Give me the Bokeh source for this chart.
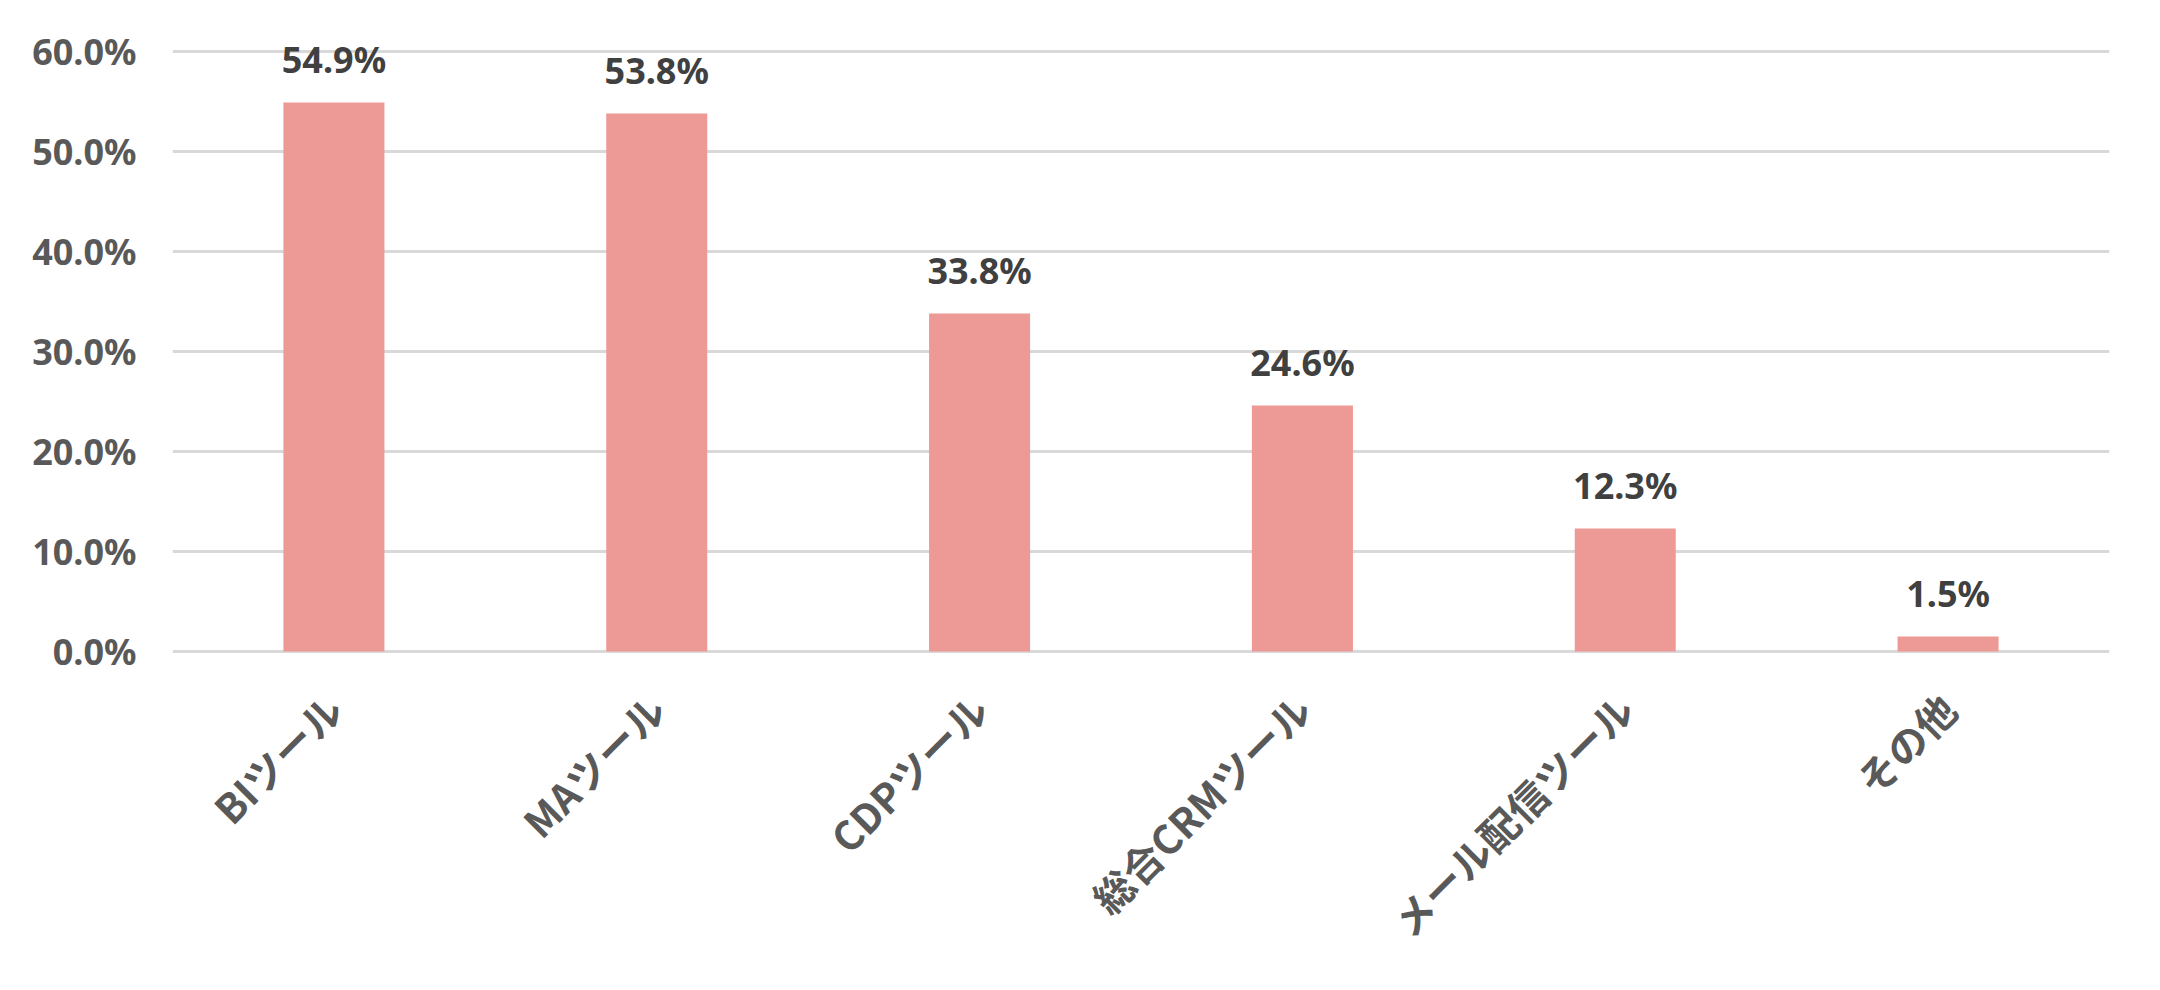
import math
from bokeh.plotting import figure
from bokeh.models import ColumnDataSource, FixedTicker, PrintfTickFormatter, Range1d, FactorRange
from bokeh.core.properties import value
from bokeh.embed import file_html
from bokeh.resources import INLINE

categories = ["BIツール", "MAツール", "CDPツール", "総合CRMツール", "メール配信ツール", "その他"]
values = [54.9, 53.8, 33.8, 24.6, 12.3, 1.5]
y_ticks = [0, 10, 20, 30, 40, 50, 60]

labels = [f"{v:.1f}%" for v in values]
src = ColumnDataSource(dict(cat=categories, val=values, lab=labels))

p = figure(
    x_range=FactorRange(*categories),
    y_range=Range1d(-0.5, 62),
    width=2144, height=974,
    output_backend="svg", toolbar_location=None,
    min_border_left=172, min_border_right=35,
    min_border_top=31, min_border_bottom=318,
)
p.outline_line_color = None
p.background_fill_color = "white"
p.border_fill_color = "white"

p.vbar(x="cat", top="val", width=0.313, source=src, fill_color="#ED9A97", line_color=None)

p.text(x="cat", y="val", text="lab", source=src, y_offset=-43,
       text_align="center", text_baseline="alphabetic",
       text_font=value("Noto Sans"), text_font_style="bold",
       text_font_size="36px", text_color="#404040")

p.xgrid.grid_line_color = None
p.ygrid.grid_line_color = "#D9D9D9"
p.ygrid.grid_line_width = 3
p.yaxis.ticker = FixedTicker(ticks=y_ticks)
p.yaxis.formatter = PrintfTickFormatter(format="%.1f%%")

for ax in (p.xaxis[0], p.yaxis[0]):
    ax.axis_line_color = None
    ax.major_tick_line_color = None
    ax.minor_tick_line_color = None
    ax.major_tick_out = 0
    ax.major_tick_in = 0
    ax.major_label_text_color = "#595959"
    ax.major_label_text_font_style = "bold"

p.yaxis.major_label_text_font = "Noto Sans"
p.yaxis.major_label_text_font_size = "36px"
p.yaxis.major_label_standoff = 36

p.xaxis.major_label_text_font = "Noto Sans CJK JP"
p.xaxis.major_label_text_font_size = "40px"
p.xaxis.major_label_orientation = math.pi / 4
p.xaxis.major_label_standoff = 45

open("out.html", "w").write(file_html(p, INLINE))
